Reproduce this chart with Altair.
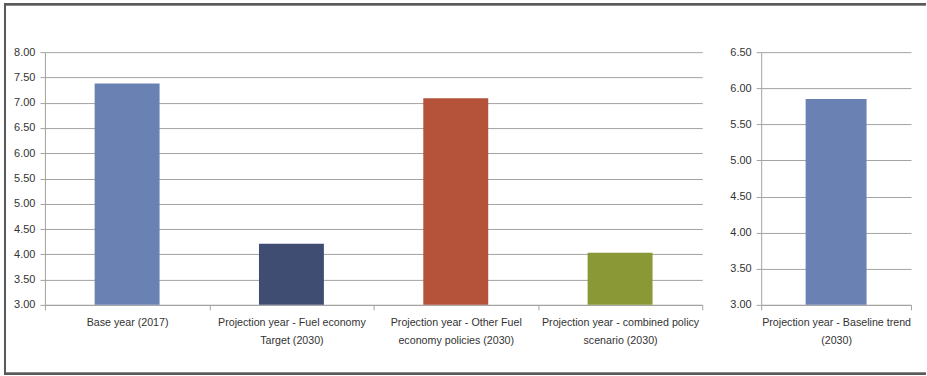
import altair as alt
import pandas as pd

# ---- data ----
left_categories = [
    "Base year (2017)",
    "Projection year - Fuel economy\nTarget (2030)",
    "Projection year - Other Fuel\neconomy policies (2030)",
    "Projection year - combined policy\nscenario (2030)",
]
left_values = [7.38, 4.21, 7.09, 4.03]
left_colors = ["#6a81b4", "#404d73", "#b4523a", "#8a9935"]
left_ticks = [3.0, 3.5, 4.0, 4.5, 5.0, 5.5, 6.0, 6.5, 7.0, 7.5, 8.0]

right_categories = ["Projection year - Baseline trend\n(2030)"]
right_values = [5.85]
right_colors = ["#6a81b4"]
right_ticks = [3.0, 3.5, 4.0, 4.5, 5.0, 5.5, 6.0, 6.5]

FONT = "Liberation Sans, Arial, sans-serif"
TEXT = "#333333"
GRID = "#a3a3a0"
BORDER = "#5a5a5a"

left_df = pd.DataFrame({"cat": left_categories, "val": left_values})
right_df = pd.DataFrame({"cat": right_categories, "val": right_values})


def x_axis():
    return alt.Axis(title=None, labelAngle=0, labelExpr="split(datum.label, '\\n')",
                    labelLineHeight=18, labelPadding=8, tickBand="extent",
                    tickSize=5, tickColor=GRID, domainColor=GRID, labelFont=FONT,
                    labelFontSize=10.7, labelColor=TEXT, labelLimit=300)


def y_axis(ticks):
    return alt.Axis(title=None, values=ticks, format=".2f", grid=True, gridColor=GRID,
                    tickSize=5, tickColor=GRID, domainColor=GRID, labelFont=FONT,
                    labelFontSize=11, labelColor=TEXT, labelPadding=5)


def border(df, x_from, x_to, top, bottom):
    opts = dict(color=BORDER, strokeWidth=2, strokeCap="square")
    return [
        alt.Chart(df).mark_rule(**opts).encode(x=alt.value(x_from), x2=alt.value(x_to), y=alt.value(top)),
        alt.Chart(df).mark_rule(**opts).encode(x=alt.value(x_from), x2=alt.value(x_to), y=alt.value(bottom)),
        alt.Chart(df).mark_rule(**opts).encode(x=alt.value(x_from), y=alt.value(top), y2=alt.value(bottom)),
    ]


LW, RW, H = 658, 150, 253

left_bars = alt.Chart(left_df).mark_bar(size=65).encode(
    x=alt.X("cat:N", sort=left_categories, axis=x_axis(),
            scale=alt.Scale(paddingInner=0, paddingOuter=0)),
    y=alt.Y("val:Q", axis=y_axis(left_ticks),
            scale=alt.Scale(domain=[left_ticks[0], left_ticks[-1]], zero=False, clamp=True, nice=False)),
    color=alt.Color("cat:N", scale=alt.Scale(domain=left_categories, range=left_colors), legend=None),
)
left = alt.layer(left_bars, *border(left_df, -40, 881, -48, 322)).properties(width=LW, height=H)

right = alt.Chart(right_df).mark_bar(size=61).encode(
    x=alt.X("cat:N", sort=right_categories, axis=x_axis(),
            scale=alt.Scale(paddingInner=0, paddingOuter=0)),
    y=alt.Y("val:Q", axis=y_axis(right_ticks),
            scale=alt.Scale(domain=[right_ticks[0], right_ticks[-1]], zero=False, clamp=True, nice=False)),
    color=alt.Color("cat:N", scale=alt.Scale(domain=right_categories, range=right_colors), legend=None),
).properties(width=RW, height=H)

chart = alt.hconcat(left, right, spacing=59, bounds="flush").resolve_scale(
    x="independent", y="independent", color="independent"
).properties(
    padding={"left": 3, "top": 2, "right": 0, "bottom": 0},
    background="white",
).configure_view(strokeWidth=0)

chart.save("out.html", embed_options={"renderer": "svg", "actions": False})
